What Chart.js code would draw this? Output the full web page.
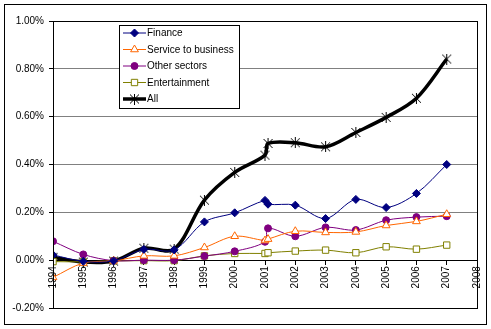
<!DOCTYPE html>
<html>
<head>
<meta charset="utf-8">
<script src="https://cdn.jsdelivr.net/npm/chart.js@4.4.0/dist/chart.umd.min.js"></script>
<style>
  html, body { margin: 0; padding: 0; background: #fff; }
  #wrap { width: 491px; height: 329px; }
</style>
</head>
<body>
<div id="wrap"><canvas id="chart" width="491" height="329"></canvas></div>
<script>
// x positions (two readings sit at 2001)
const years = [1994, 1995, 1996, 1997, 1998, 1999, 2000, 2001, 2001.1, 2002, 2003, 2004, 2005, 2006, 2007];
const yTicks = [-0.2, 0, 0.2, 0.4, 0.6, 0.8, 1.0];

const finance       = [0.022, -0.005, -0.003, 0.045, 0.043, 0.160, 0.198, 0.250, 0.234, 0.230, 0.174, 0.254, 0.220, 0.279, 0.400];
const serviceToBiz  = [-0.072, -0.012, -0.003, 0.018, 0.018, 0.053, 0.100, 0.082, 0.088, 0.121, 0.116, 0.118, 0.145, 0.162, 0.192];
const otherSectors  = [0.079, 0.024, -0.002, 0.000, 0.000, 0.017, 0.037, 0.077, 0.133, 0.100, 0.137, 0.126, 0.167, 0.180, 0.184];
const entertainment = [-0.006, -0.007, -0.003, -0.002, -0.002, 0.018, 0.028, 0.028, 0.031, 0.038, 0.042, 0.031, 0.056, 0.046, 0.063];
const all           = [0.012, -0.008, -0.004, 0.050, 0.046, 0.251, 0.367, 0.439, 0.488, 0.491, 0.474, 0.534, 0.597, 0.677, 0.841];

const FONT = '"Liberation Sans", Arial, sans-serif';

// Excel-style asterisk marker: an X with a vertical stroke
function asterisk() {
  const c = document.createElement('canvas');
  c.width = 11; c.height = 11;
  const g = c.getContext('2d');
  g.strokeStyle = '#000';
  g.lineWidth = 1;
  g.beginPath();
  g.moveTo(1, 1); g.lineTo(10, 10);
  g.moveTo(10, 1); g.lineTo(1, 10);
  g.moveTo(5.5, 0); g.lineTo(5.5, 11);
  g.stroke();
  return c;
}

function pts(arr) {
  return years.map((x, i) => ({ x: x, y: arr[i] }));
}

function series(label, arr, color, style, radius, fill, width) {
  return {
    label: label,
    data: pts(arr),
    borderColor: color,
    borderWidth: width,
    pointStyle: style,
    pointRadius: radius,
    pointBackgroundColor: fill,
    pointBorderColor: color,
    pointBorderWidth: 1,
    tension: 0.33,
    fill: false
  };
}

// frame, plot border and boxed legend
const framePlugin = {
  id: 'frame',
  beforeDraw(chart) {
    const ctx = chart.ctx;
    ctx.save();
    ctx.fillStyle = '#fff';
    ctx.fillRect(0, 0, chart.width, chart.height);
    ctx.strokeStyle = '#000';
    ctx.lineWidth = 1;
    ctx.strokeRect(4.5, 4.5, 482, 320);
    ctx.restore();
  },
  afterDraw(chart) {
    const ctx = chart.ctx;
    const a = chart.chartArea;
    ctx.save();
    ctx.strokeStyle = '#000';
    ctx.lineWidth = 1;
    ctx.strokeRect(Math.round(a.left) + 0.5, Math.round(a.top) + 0.5,
                   Math.round(a.right - a.left), Math.round(a.bottom - a.top));

    // legend
    const lx = 119.5, ly = 25.5, lw = 120, lh = 83;
    ctx.fillStyle = '#fff';
    ctx.fillRect(lx, ly, lw, lh);
    ctx.strokeRect(lx, ly, lw, lh);
    ctx.font = '10px ' + FONT;
    ctx.textBaseline = 'middle';
    ctx.textAlign = 'left';
    chart.data.datasets.forEach((ds, i) => {
      const y = 33 + i * 16.5;
      ctx.strokeStyle = ds.borderColor;
      ctx.lineWidth = ds.borderWidth;
      ctx.beginPath();
      ctx.moveTo(123, y);
      ctx.lineTo(146, y);
      ctx.stroke();
      ctx.fillStyle = ds.pointBackgroundColor;
      ctx.strokeStyle = ds.pointBorderColor;
      ctx.lineWidth = 1;
      Chart.helpers.drawPoint(ctx, {
        pointStyle: ds.pointStyle, radius: ds.pointRadius, rotation: 0, borderWidth: 1
      }, 134.5, y);
      ctx.fillStyle = '#000';
      ctx.fillText(ds.label, 147, y + 0.5);
    });
    ctx.restore();
  }
};

new Chart(document.getElementById('chart'), {
  type: 'line',
  data: {
    datasets: [
      series('Finance', finance, '#000080', 'rectRot', 4, '#000080', 1),
      series('Service to business', serviceToBiz, '#FF6600', 'triangle', 4.5, '#fff', 1),
      series('Other sectors', otherSectors, '#800080', 'circle', 3.5, '#800080', 1),
      series('Entertainment', entertainment, '#808000', 'rect', 4.5, '#fff', 1),
      series('All', all, '#000000', asterisk(), 5, '#000', 3.5)
    ]
  },
  options: {
    responsive: false,
    animation: false,
    devicePixelRatio: 1,
    layout: { padding: { left: 0, top: 21, right: 13, bottom: 21 } },
    plugins: {
      legend: { display: false },
      tooltip: { enabled: false }
    },
    scales: {
      x: {
        type: 'linear',
        position: { y: 0 },
        min: 1994,
        max: 2008,
        ticks: {
          stepSize: 1,
          autoSkip: false,
          minRotation: 90,
          maxRotation: 90,
          padding: 2,
          color: '#000',
          font: { family: FONT, size: 10 },
          callback: v => String(v)
        },
        grid: { drawOnChartArea: false, drawTicks: true, tickLength: 4, tickColor: '#000' },
        border: { display: true, color: '#000', width: 1 }
      },
      y: {
        min: -0.2,
        max: 1.0,
        afterFit(s) { s.width = 53; },
        afterBuildTicks(s) { s.ticks = yTicks.map(v => ({ value: v })); },
        ticks: {
          padding: 5,
          color: '#000',
          font: { family: FONT, size: 10 },
          callback: v => v.toFixed(2) + '%'
        },
        grid: { color: '#808080', lineWidth: 1, tickLength: 4, tickColor: '#000' },
        border: { display: true, color: '#000', width: 1 }
      }
    }
  },
  plugins: [framePlugin]
});
</script>
</body>
</html>
